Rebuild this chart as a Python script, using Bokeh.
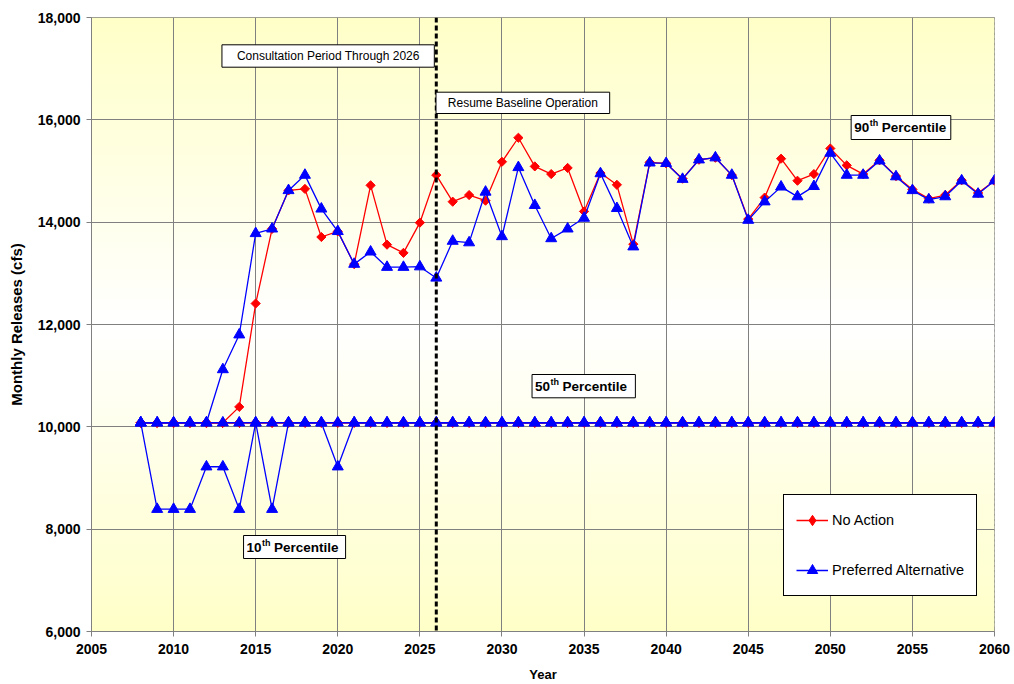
import numpy as np
from bokeh.plotting import figure
from bokeh.models import (FixedTicker, NumeralTickFormatter, Span, BoxAnnotation,
                          Label, Legend, LegendItem)
from bokeh.embed import file_html
from bokeh.resources import INLINE

# ---------------- data ----------------
years = list(range(2008, 2061))

x_ticks = [2005, 2010, 2015, 2020, 2025, 2030, 2035, 2040, 2045, 2050, 2055, 2060]
y_ticks = [6000, 8000, 10000, 12000, 14000, 16000, 18000]

# No Action (red)
na_p10 = [10080, 10080, 10080, 10080, 10080, 10080, 10080, 10080, 10080, 10080,
          10080, 10080, 10080, 10080, 10080, 10080, 10080, 10080, 10080, 10080,
          10080, 10080, 10080, 10080, 10080, 10080, 10080, 10080, 10080, 10080,
          10080, 10080, 10080, 10080, 10080, 10080, 10080, 10080, 10080, 10080,
          10080, 10080, 10080, 10080, 10080, 10080, 10080, 10080, 10080, 10080,
          10080, 10080, 10080]
na_p50 = [10080, 10080, 10080, 10080, 10080, 10080, 10080, 10080, 10080, 10080,
          10080, 10080, 10080, 10080, 10080, 10080, 10080, 10080, 10080, 10080,
          10080, 10080, 10080, 10080, 10080, 10080, 10080, 10080, 10080, 10080,
          10080, 10080, 10080, 10080, 10080, 10080, 10080, 10080, 10080, 10080,
          10080, 10080, 10080, 10080, 10080, 10080, 10080, 10080, 10080, 10080,
          10080, 10080, 10080]
na_p90 = [10080, 10080, 10080, 10080, 10080, 10080, 10390, 12410, 13870, 14620,
          14650, 13710, 13820, 13180, 14720, 13560, 13400, 13990, 14920, 14400,
          14530, 14420, 15180, 15650, 15090, 14940, 15060, 14210, 14960, 14730,
          13570, 15170, 15150, 14850, 15220, 15260, 14920, 14060, 14480, 15240,
          14810, 14940, 15440, 15110, 14940, 15210, 14900, 14640, 14460, 14530,
          14820, 14570, 14810]

# Preferred Alternative (blue)
pa_p10 = [10080, 8390, 8390, 8390, 9220, 9220, 8390, 10080, 8390, 10080,
          10080, 10080, 9220, 10080, 10080, 10080, 10080, 10080, 10080, 10080,
          10080, 10080, 10080, 10080, 10080, 10080, 10080, 10080, 10080, 10080,
          10080, 10080, 10080, 10080, 10080, 10080, 10080, 10080, 10080, 10080,
          10080, 10080, 10080, 10080, 10080, 10080, 10080, 10080, 10080, 10080,
          10080, 10080, 10080]
pa_p50 = [10080, 10080, 10080, 10080, 10080, 10080, 10080, 10080, 10080, 10080,
          10080, 10080, 10080, 10080, 10080, 10080, 10080, 10080, 10080, 10080,
          10080, 10080, 10080, 10080, 10080, 10080, 10080, 10080, 10080, 10080,
          10080, 10080, 10080, 10080, 10080, 10080, 10080, 10080, 10080, 10080,
          10080, 10080, 10080, 10080, 10080, 10080, 10080, 10080, 10080, 10080,
          10080, 10080, 10080]
pa_p90 = [10080, 10080, 10080, 10080, 10080, 11120, 11800, 13780, 13870, 14620,
          14920, 14260, 13820, 13180, 13420, 13120, 13120, 13130, 12910, 13630,
          13600, 14590, 13720, 15070, 14330, 13680, 13870, 14080, 14950, 14270,
          13520, 15160, 15150, 14840, 15220, 15260, 14920, 14040, 14400, 14690,
          14500, 14700, 15350, 14920, 14920, 15200, 14890, 14620, 14440, 14500,
          14810, 14550, 14810]

split_year = 2026

# ---------------- figure ----------------
X0, X1, Y0, Y1 = 2005, 2060, 6000, 18000
W, H = 1012, 684
FL, FR, FT, FB = 91, 994, 17, 631   # frame position on page

p = figure(width=W, height=H, x_range=(X0, X1), y_range=(Y0, Y1),
           output_backend="svg", toolbar_location=None,
           min_border_left=FL, min_border_right=W - FR, min_border_top=FT,
           min_border_bottom=H - FB)

FONT = "Liberation Sans"

# reference-pixel -> data helpers (layout positions only)
def X(px):
    return X0 + (px - 91.3) / (994.0 - 91.3) * (X1 - X0)

def Y(py):
    return Y1 - (py - 17.0) / (631.0 - 17.0) * (Y1 - Y0)

# vertical gradient of the plot area (yellow at top/bottom, white in the middle)
nb = 120
step = (Y1 - Y0) / nb
g_bottom, g_top, g_col = [], [], []
for i in range(nb):
    yc = Y0 + (i + 0.5) * step
    t = abs((yc - Y0) / (Y1 - Y0) - 0.5) * 2.0
    b = int(round(255 - t * (255 - 200)))
    g_bottom.append(Y0 + i * step)
    g_top.append(min(Y1, Y0 + (i + 1.6) * step))
    g_col.append("#ffff%02x" % b)
g_left = [X0] * nb
g_right = [X1] * nb
p.quad(left=g_left, right=g_right, bottom=g_bottom, top=g_top, fill_color=g_col,
       line_color=None, level="underlay")

p.background_fill_color = "white"
p.border_fill_color = "white"
p.outline_line_color = "#808080"
p.outline_line_width = 1

p.xgrid.grid_line_color = "#808080"
p.ygrid.grid_line_color = "#808080"
p.xgrid.grid_line_width = 1
p.ygrid.grid_line_width = 1

p.xaxis.ticker = FixedTicker(ticks=x_ticks)
p.yaxis.ticker = FixedTicker(ticks=y_ticks)
p.yaxis.formatter = NumeralTickFormatter(format="0,0")

for ax in (p.xaxis[0], p.yaxis[0]):
    ax.axis_line_color = "#808080"
    ax.major_tick_line_color = "#808080"
    ax.major_tick_out = 5
    ax.major_tick_in = 0
    ax.minor_tick_line_color = None
    ax.major_label_text_font = FONT
    ax.major_label_text_font_style = "bold"
    ax.major_label_text_font_size = "14px"
    ax.major_label_text_color = "black"
    ax.axis_label_text_font = FONT
    ax.axis_label_text_font_style = "bold"
    ax.axis_label_text_color = "black"

p.xaxis.axis_label = "Year"
p.yaxis.axis_label = "Monthly Releases (cfs)"
p.xaxis.axis_label_text_font_size = "13px"
p.yaxis.axis_label_text_font_size = "15px"
p.xaxis.major_label_standoff = 7
p.yaxis.major_label_standoff = 6
p.xaxis.axis_label_standoff = 10
p.yaxis.axis_label_standoff = 10

RED = "#FF0000"
BLUE = "#0000FF"

red_r = []
for ys in (na_p10, na_p50, na_p90):
    l = p.line(years, ys, line_color=RED, line_width=1.3)
    s = p.scatter(years, ys, marker="square", angle=np.pi / 4, size=6.5,
                  fill_color=RED, line_color=RED)
    red_r.append((l, s))

blue_r = []
for ys in (pa_p10, pa_p50, pa_p90):
    l = p.line(years, ys, line_color=BLUE, line_width=1.3)
    s = p.scatter(years, ys, marker="triangle", size=11,
                  fill_color=BLUE, line_color=BLUE)
    blue_r.append((l, s))

# legend-only glyphs (diamond shape shown in legend); NaN -> nothing drawn in plot
nan = float("nan")
leg_red_line = p.line(x=[nan, nan], y=[nan, nan], line_color=RED, line_width=1.3)
leg_red_mark = p.scatter(x=[nan], y=[nan], marker="diamond", size=10,
                         fill_color=RED, line_color=RED)

# dashed separator
p.add_layout(Span(location=split_year, dimension="height", line_color="black",
                  line_width=3, line_dash="5 3"))

# text boxes
def box(x0, x1, y0, y1):
    p.add_layout(BoxAnnotation(left=X(x0), right=X(x1), top=Y(y0), bottom=Y(y1),
                               fill_color="white", fill_alpha=1.0,
                               line_color="black", line_alpha=1.0, line_width=1))

def txt(px, py, s, size, bold=False, align="left"):
    p.add_layout(Label(x=X(px), y=Y(py), text=s, text_font=FONT,
                       text_font_size=size,
                       text_font_style="bold" if bold else "normal",
                       text_align=align, text_baseline="middle",
                       text_color="black"))

box(221.7, 434.0, 44.3, 66.7)
txt(328, 55.5, "Consultation Period Through 2026", "12px", align="center")

box(435.7, 609.3, 91.7, 113.0)
txt(522.5, 102.0, "Resume Baseline Operation", "12px", align="center")

def pct(num, bx0, bx1, by0, by1):
    box(bx0, bx1, by0, by1)
    cy = (by0 + by1) / 2.0
    txt(bx0 + 3, cy, num, "13.5px", bold=True)
    txt(bx0 + 18.5, cy - 4.5, "th", "9px", bold=True)
    txt(bx0 + 30.5, cy, "Percentile", "13.5px", bold=True)

pct("90", 850.7, 950.3, 115.0, 139.0)
pct("50", 531.7, 635.0, 374.0, 397.3)
pct("10", 243.3, 345.3, 535.0, 558.0)

legend = Legend(items=[
    LegendItem(label="No Action", renderers=[leg_red_line, leg_red_mark]),
    LegendItem(label="Preferred Alternative", renderers=list(blue_r[0])),
], location=(783 - FL, FB - 596))
legend.border_line_color = "black"
legend.border_line_width = 1
legend.border_line_alpha = 1.0
legend.background_fill_color = "white"
legend.background_fill_alpha = 1.0
legend.padding = 12
legend.margin = 0
legend.spacing = 24
legend.glyph_width = 32
legend.glyph_height = 26
legend.label_standoff = 4
legend.label_text_font = FONT
legend.label_text_font_size = "14.5px"
legend.label_text_color = "black"
legend.label_height = 26
p.add_layout(legend)

open("out.html", "w").write(file_html(p, INLINE))
